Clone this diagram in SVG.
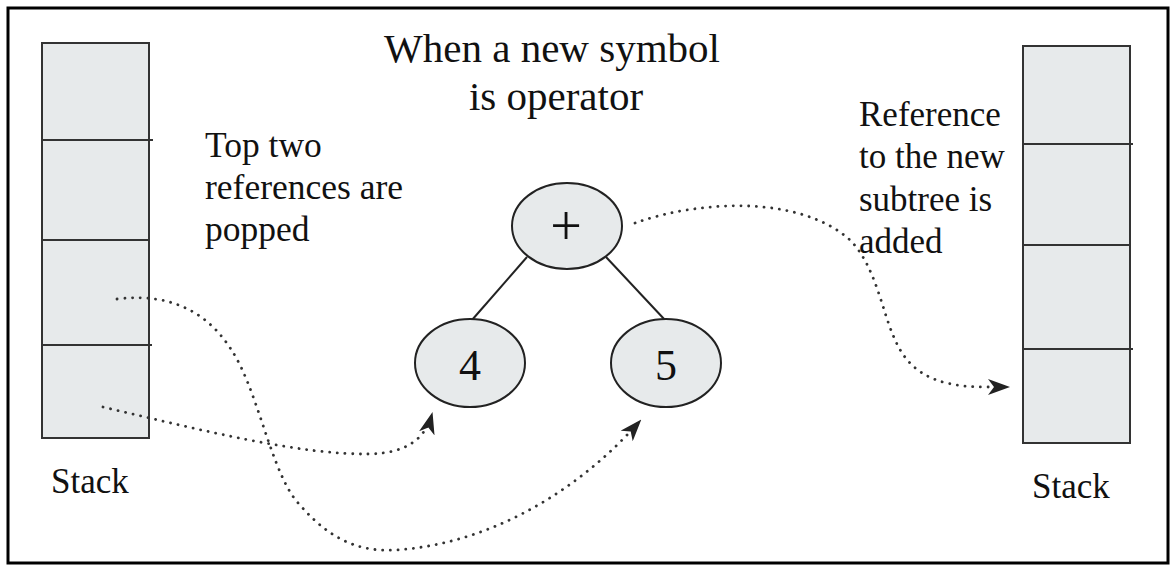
<svg xmlns="http://www.w3.org/2000/svg" width="1176" height="570" viewBox="0 0 1176 570">
<style>
.t{font-family:"Liberation Serif","Times New Roman",serif;fill:#111;}
.box{fill:#e7eaeb;stroke:#333;stroke-width:2;}
.div{stroke:#333;stroke-width:2;}
.node{fill:#e7eaeb;stroke:#222;stroke-width:2;}
.edge{stroke:#222;stroke-width:2;fill:none;}
.dot{fill:none;stroke:#333;stroke-width:2.8;stroke-dasharray:0.1 7.6;stroke-linecap:round;}
</style>
<defs>
<marker id="ah" viewBox="0 0 22 16" refX="20" refY="8" markerWidth="22" markerHeight="16" markerUnits="userSpaceOnUse" orient="auto">
<path d="M0,0 L22,8 L0,16 L6,8 Z" fill="#222"/>
</marker>
</defs>
<rect width="1176" height="570" fill="#fff"/>
<rect x="8" y="8" width="1160" height="555" fill="none" stroke="#000" stroke-width="3"/>

<g id="left-stack">
<rect class="box" x="42" y="43" width="107" height="395"/>
<line class="div" x1="42" y1="140" x2="153" y2="140"/>
<line class="div" x1="42" y1="240" x2="149" y2="240"/>
<line class="div" x1="42" y1="345" x2="152" y2="345"/>
<text class="t" x="51" y="493" font-size="35">Stack</text>
</g>

<g id="right-stack">
<rect class="box" x="1023" y="46" width="107" height="397"/>
<line class="div" x1="1023" y1="144" x2="1133" y2="144"/>
<line class="div" x1="1023" y1="245" x2="1130" y2="245"/>
<line class="div" x1="1023" y1="349" x2="1133" y2="349"/>
<text class="t" x="1032" y="498" font-size="35">Stack</text>
</g>

<g id="title">
<text class="t" x="552" y="62" font-size="41" text-anchor="middle">When a new symbol</text>
<text class="t" x="556" y="110" font-size="41" text-anchor="middle">is operator</text>
</g>

<g id="label-popped">
<text class="t" x="205" y="157" font-size="35.5">Top two</text>
<text class="t" x="205" y="199" font-size="35.5">references are</text>
<text class="t" x="205" y="241" font-size="35.5">popped</text>
</g>

<g id="label-added">
<text class="t" x="859" y="126" font-size="35">Reference</text>
<text class="t" x="859" y="168" font-size="35">to the new</text>
<text class="t" x="859" y="211" font-size="35">subtree is</text>
<text class="t" x="859" y="253" font-size="35">added</text>
</g>

<g id="tree-edges">
<line class="edge" x1="527" y1="257" x2="472" y2="320"/>
<line class="edge" x1="606" y1="257" x2="665" y2="320"/>
</g>

<g id="node-plus">
<ellipse class="node" cx="567" cy="226" rx="55" ry="43"/>
<text class="t" x="566" y="245" font-size="56" text-anchor="middle">+</text>
</g>
<g id="node-4">
<ellipse class="node" cx="470" cy="363" rx="55" ry="44"/>
<text class="t" x="470" y="380" font-size="44" text-anchor="middle">4</text>
</g>
<g id="node-5">
<ellipse class="node" cx="666" cy="363" rx="55" ry="44"/>
<text class="t" x="666" y="380" font-size="44" text-anchor="middle">5</text>
</g>

<g id="connectors">
<path class="dot" d="M117,299 C175,292 215,315 240,365 C262,410 275,480 300,505 C330,540 360,552 395,550 C480,545 570,500 640,421" marker-end="url(#ah)"/>
<path class="dot" d="M103,407 C200,430 300,455 370,454 C405,453 425,440 432,414" marker-end="url(#ah)"/>
<path class="dot" d="M635,223 C700,200 800,195 850,240 C875,265 882,310 893,335 C905,365 925,387 985,387 L1008,387" marker-end="url(#ah)"/>
</g>
</svg>
